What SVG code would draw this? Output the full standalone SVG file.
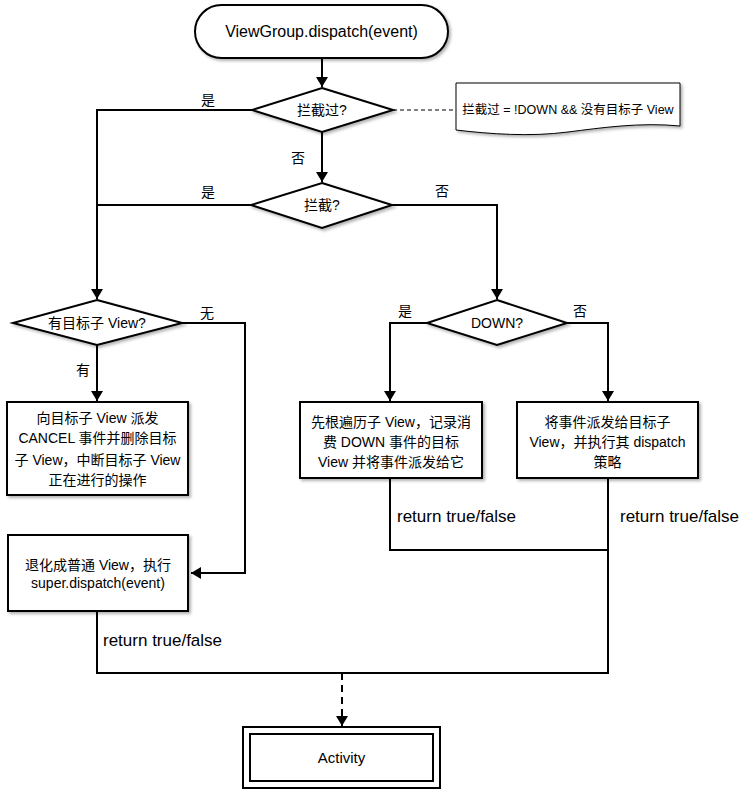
<svg xmlns="http://www.w3.org/2000/svg" width="748" height="791" viewBox="0 0 748 791">
<style>
.n{fill:#fff;stroke:#000;stroke-width:2}
.c{fill:none;stroke:#000;stroke-width:2}
.d{fill:none;stroke:#000;stroke-width:1.2;stroke-dasharray:4 3}
.dd{fill:none;stroke:#000;stroke-width:2;stroke-dasharray:7 5}
text{font-family:"Liberation Sans","Noto Sans CJK SC",sans-serif;fill:#000;text-anchor:middle}
.t14{font-size:14px}
.t16{font-size:16px}
.l{font-size:14px}
.r{font-size:17px;text-anchor:start}
</style>
<defs>
<marker id="a" viewBox="0 0 10 12" refX="10" refY="6" markerWidth="10" markerHeight="12" markerUnits="userSpaceOnUse" orient="auto"><path d="M0,0L10,6L0,12Z" fill="#000"/></marker>
<filter id="s" x="-10%" y="-10%" width="130%" height="140%"><feDropShadow dx="2" dy="2" stdDeviation="1.5" flood-color="#000" flood-opacity="0.3"/></filter>
</defs>
<g id="connectors">
<path class="c" d="M322,58V87" marker-end="url(#a)"/>
<path class="c" d="M252,110H97V299" marker-end="url(#a)"/>
<path class="c" d="M322,132V182" marker-end="url(#a)"/>
<path class="c" d="M251,205H97"/>
<path class="c" d="M392,205H497V299" marker-end="url(#a)"/>
<path class="d" d="M393,110H456"/>
<path class="c" d="M97,345V401" marker-end="url(#a)"/>
<path class="c" d="M182,323H245V573H191" marker-end="url(#a)"/>
<path class="c" d="M427,323H390V401" marker-end="url(#a)"/>
<path class="c" d="M567,323H608V401" marker-end="url(#a)"/>
<path class="c" d="M390,478V550H608"/>
<path class="c" d="M608,478V673H97V611"/>
<path class="dd" d="M342,673V726" marker-end="url(#a)"/>
<text class="l" x="208" y="105">是</text>
<text class="l" x="298" y="163">否</text>
<text class="l" x="208" y="197">是</text>
<text class="l" x="442" y="196">否</text>
<text class="l" x="207" y="318">无</text>
<text class="l" x="83" y="375">有</text>
<text class="l" x="405" y="316">是</text>
<text class="l" x="580" y="316">否</text>
<text class="r" x="397" y="522">return true/false</text>
<text class="r" x="620" y="522">return true/false</text>
<text class="r" x="103" y="646">return true/false</text>
</g>
<g id="start">
<rect class="n" x="195" y="5" width="253" height="53" rx="26.5" filter="url(#s)"/>
<text class="t16" x="321.5" y="37">ViewGroup.dispatch(event)</text>
</g>
<g id="intercepted">
<path class="n" d="M322,88L393,110L322,132L252,110Z" filter="url(#s)"/>
<text class="t14" x="322" y="115">拦截过?</text>
</g>
<g id="note">
<path d="M456,83H680V126C640,122 600,128 568,132C530,137 490,134 456,130Z" fill="#fff" stroke="#000" stroke-width="1" filter="url(#s)"/>
<text x="568" y="114" style="font-size:12.5px">拦截过 = !DOWN &amp;&amp; 没有目标子 View</text>
</g>
<g id="intercept">
<path class="n" d="M322,183L392,205L322,228L251,205Z" filter="url(#s)"/>
<text class="t14" x="322" y="210">拦截?</text>
</g>
<g id="hasTarget">
<path class="n" d="M97,300L182,323L97,345L13,323Z" filter="url(#s)"/>
<text class="t14" x="97" y="328">有目标子 View?</text>
</g>
<g id="down">
<path class="n" d="M497,300L567,323L497,345L427,323Z" filter="url(#s)"/>
<text class="t14" x="497" y="328">DOWN?</text>
</g>
<g id="cancel">
<rect class="n" x="7" y="402" width="181" height="93" filter="url(#s)"/>
<text class="t14" x="97.5" y="423">向目标子 View 派发</text>
<text class="t14" x="97.5" y="443">CANCEL 事件并删除目标</text>
<text class="t14" x="97.5" y="465">子 View，中断目标子 View</text>
<text class="t14" x="97.5" y="485">正在进行的操作</text>
</g>
<g id="traverse">
<rect class="n" x="300" y="402" width="182" height="76" filter="url(#s)"/>
<text class="t14" x="391" y="427">先根遍历子 View，记录消</text>
<text class="t14" x="391" y="447">费 DOWN 事件的目标</text>
<text class="t14" x="391" y="467">View 并将事件派发给它</text>
</g>
<g id="dispatchTarget">
<rect class="n" x="517" y="402" width="181" height="76" filter="url(#s)"/>
<text class="t14" x="607.5" y="427">将事件派发给目标子</text>
<text class="t14" x="607.5" y="447">View，并执行其 dispatch</text>
<text class="t14" x="607.5" y="467">策略</text>
</g>
<g id="superDispatch">
<rect class="n" x="8" y="535" width="180" height="76" filter="url(#s)"/>
<text class="t14" x="98" y="570">退化成普通 View，执行</text>
<text class="t14" x="98" y="588">super.dispatch(event)</text>
</g>
<g id="activity">
<rect class="n" x="243" y="727" width="197" height="61"/>
<rect class="n" x="250" y="734" width="183" height="47"/>
<text x="341.5" y="763" style="font-size:15px">Activity</text>
</g>
</svg>
